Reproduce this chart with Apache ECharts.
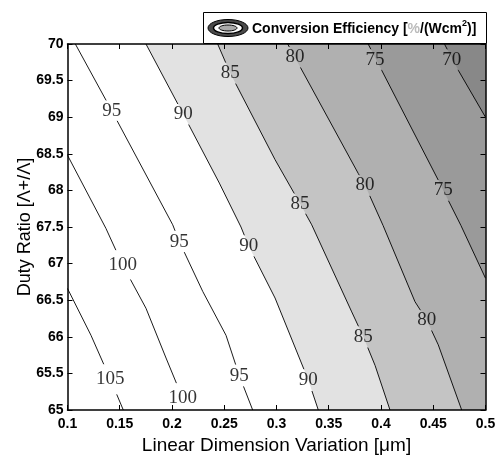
<!DOCTYPE html>
<html>
<head>
<meta charset="utf-8">
<script src="https://cdn.jsdelivr.net/npm/echarts@6/dist/echarts.min.js"></script>
<style>
html, body { margin: 0; padding: 0; background: #fff; }
#chart { width: 498px; height: 455px; }
</style>
</head>
<body>
<div id="chart"></div>
<script>
// contour levels, each line as [x, y] points (top -> bottom)
var levels = [105, 100, 95, 90, 85, 80, 75, 70];
var line105 = [[0.1, 66.66], [0.1225, 66.02], [0.141, 65.42], [0.1534, 65.0]];
var line100 = [[0.1, 68.48], [0.1368, 67.48], [0.1528, 66.98], [0.1751, 66.39], [0.1943, 65.71], [0.2102, 65.16], [0.215, 65.0]];
var line95 = [[0.1075, 70], [0.1423, 69.09], [0.2007, 67.53], [0.207, 67.3], [0.2294, 66.62], [0.2517, 66.02], [0.2644, 65.47], [0.2772, 65.0]];
var line90 = [[0.1751, 70], [0.2108, 69.04], [0.2453, 68.1], [0.266, 67.5], [0.2734, 67.24], [0.2986, 66.53], [0.3304, 65.41], [0.34, 65.0]];
var line85 = [[0.2437, 70], [0.2558, 69.6], [0.2986, 68.42], [0.3225, 67.82], [0.3337, 67.53], [0.372, 66.34], [0.3831, 66.0], [0.3943, 65.61], [0.4086, 65.0]];
var line80 = [[0.3107, 70], [0.3225, 69.69], [0.3783, 68.23], [0.3847, 68.07], [0.402, 67.52], [0.4325, 66.48], [0.4437, 66.23], [0.4548, 65.89], [0.4772, 65.0]];
var line75 = [[0.3877, 70], [0.4007, 69.64], [0.4548, 68.14], [0.4596, 68.0], [0.4765, 67.52], [0.5, 66.8]];
var line70 = [[0.4607, 70], [0.474, 69.64], [0.5, 69.0]];

// inline contour labels [x, y, level]
var contourLabels = [
  [0.141, 65.42, 105],
  [0.1528, 66.98, 100], [0.2102, 65.16, 100],
  [0.1423, 69.09, 95], [0.207, 67.3, 95], [0.2644, 65.47, 95],
  [0.2108, 69.04, 90], [0.2734, 67.24, 90], [0.3304, 65.41, 90],
  [0.2558, 69.6, 85], [0.3225, 67.82, 85], [0.3831, 66.0, 85],
  [0.3177, 69.82, 80], [0.3847, 68.07, 80], [0.4437, 66.23, 80],
  [0.3943, 69.78, 75], [0.4596, 68.0, 75],
  [0.4676, 69.78, 70]
];

// shading of the band to the right of each line
var fillLevels = [90, 85, 80, 75, 70];
var fillColors = ['#e2e2e2', '#c4c4c4', '#b0b0b0', '#9a9a9a', '#888888'];

var lines = [line105, line100, line95, line90, line85, line80, line75, line70];
var fillLines = [line90, line85, line80, line75, line70];

var myChart = echarts.init(document.getElementById('chart'));

// cut gaps in a pixel polyline where the labels sit
function cutGaps(px, labelPx) {
  var L = [0];
  for (var i = 1; i < px.length; i++) {
    L.push(L[i - 1] + Math.hypot(px[i][0] - px[i - 1][0], px[i][1] - px[i - 1][1]));
  }
  var total = L[L.length - 1];
  function at(s) {
    for (var i = 0; i < px.length - 1; i++) {
      if (s <= L[i + 1] || i === px.length - 2) {
        var t = (s - L[i]) / ((L[i + 1] - L[i]) || 1);
        return [px[i][0] + t * (px[i + 1][0] - px[i][0]), px[i][1] + t * (px[i + 1][1] - px[i][1])];
      }
    }
  }
  var gaps = labelPx.map(function (lb) {
    var best = 1e9, s0 = 0;
    for (var i = 0; i < px.length - 1; i++) {
      var ax = px[i][0], ay = px[i][1], bx = px[i + 1][0], by = px[i + 1][1];
      var dx = bx - ax, dy = by - ay, len2 = dx * dx + dy * dy || 1;
      var t = Math.max(0, Math.min(1, ((lb.p[0] - ax) * dx + (lb.p[1] - ay) * dy) / len2));
      var d = Math.hypot(ax + t * dx - lb.p[0], ay + t * dy - lb.p[1]);
      if (d < best) { best = d; s0 = L[i] + t * (L[i + 1] - L[i]); }
    }
    return [s0 - lb.w, s0 + lb.w];
  }).sort(function (a, b) { return a[0] - b[0]; });
  var keep = [], start = 0;
  gaps.forEach(function (g) {
    if (g[0] > start) keep.push([start, g[0]]);
    start = Math.max(start, g[1]);
  });
  if (start < total) keep.push([start, total]);
  return keep.map(function (k) {
    var seg = [at(k[0])];
    for (var i = 0; i < px.length; i++) if (L[i] > k[0] && L[i] < k[1]) seg.push(px[i]);
    seg.push(at(k[1]));
    return seg;
  });
}

var option = {
  animation: false,
  grid: { left: 67.5, right: 12.5, top: 44, bottom: 45, containLabel: false, outerBoundsMode: 'none' },
  xAxis: [{
    type: 'value', min: 0.1, max: 0.5, interval: 0.05, position: 'bottom', z: 10,
    name: 'Linear Dimension Variation [\u03bcm]', nameLocation: 'middle', nameGap: 22,
    nameTextStyle: { color: '#000', fontSize: 19, fontFamily: 'Liberation Sans' },
    axisLine: { lineStyle: { color: '#000', width: 1.5 } },
    axisTick: { inside: true, length: 5, lineStyle: { color: '#000' } },
    axisLabel: { color: '#000', fontSize: 14, fontWeight: 'bold', fontFamily: 'Liberation Sans', margin: 7 },
    splitLine: { show: false }
  }, {
    type: 'value', min: 0.1, max: 0.5, interval: 0.05, position: 'top', z: 10,
    axisLine: { lineStyle: { color: '#000', width: 1.5 } },
    axisTick: { inside: true, length: 5, lineStyle: { color: '#000' } },
    axisLabel: { show: false },
    splitLine: { show: false }
  }],
  yAxis: [{
    type: 'value', min: 65, max: 70, interval: 0.5, position: 'left', z: 10,
    name: 'Duty Ratio [\u039b+/\u039b]', nameLocation: 'middle', nameGap: 33, nameMoveOverlap: false,
    nameTextStyle: { color: '#000', fontSize: 18, fontFamily: 'Liberation Sans' },
    axisLine: { lineStyle: { color: '#000', width: 1.5 } },
    axisTick: { inside: true, length: 5, lineStyle: { color: '#000' } },
    axisLabel: { color: '#000', fontSize: 14, fontWeight: 'bold', fontFamily: 'Liberation Sans', margin: 4 },
    splitLine: { show: false }
  }, {
    type: 'value', min: 65, max: 70, interval: 0.5, position: 'right', z: 10,
    axisLine: { lineStyle: { color: '#000', width: 1.5 } },
    axisTick: { inside: true, length: 5, lineStyle: { color: '#000' } },
    axisLabel: { show: false },
    splitLine: { show: false }
  }],
  graphic: [
    { type: 'rect', z: 100, shape: { x: 203.5, y: 12.5, width: 283, height: 31 },
      style: { fill: '#fff', stroke: '#000', lineWidth: 1 } },
    { type: 'ellipse', z: 101, shape: { cx: 228, cy: 28, rx: 20, ry: 8.5 },
      style: { fill: '#4a4a4a', stroke: '#000', lineWidth: 1 } },
    { type: 'ellipse', z: 102, shape: { cx: 228, cy: 28, rx: 14.5, ry: 5.5 },
      style: { fill: '#fff', stroke: '#000', lineWidth: 1.5 } },
    { type: 'ellipse', z: 103, shape: { cx: 228, cy: 28, rx: 9, ry: 3 },
      style: { fill: '#aaa', stroke: '#000', lineWidth: 1 } },
    { type: 'text', z: 104, x: 252, y: 28,
      style: {
        text: '{a|Conversion Efficiency [}{g|%}{a|/(Wcm}{s|2}{a|)]}',
        verticalAlign: 'middle',
        rich: {
          a: { fontSize: 14, fontWeight: 'bold', fontFamily: 'Liberation Sans', fill: '#000', lineHeight: 17, verticalAlign: 'bottom' },
          g: { fontSize: 14, fontWeight: 'bold', fontFamily: 'Liberation Sans', fill: '#bbb', lineHeight: 17, verticalAlign: 'bottom' },
          s: { fontSize: 9, fontWeight: 'bold', fontFamily: 'Liberation Sans', fill: '#000', lineHeight: 10, verticalAlign: 'top' }
        }
      } }
  ],
  series: [
    {
      // shaded bands
      type: 'custom', z: 1, clip: true,
      data: fillLines.map(function (l, i) { return [l[0][0], l[0][1], fillLevels[i]]; }),
      encode: { x: 0, y: 1 },
      renderItem: function (params, api) {
        var pts = fillLines[params.dataIndex].slice();
        var last = pts[pts.length - 1];
        if (last[1] <= 65) pts.push([0.5, 65]);
        pts.push([0.5, 70]);
        return {
          type: 'polygon',
          shape: { points: pts.map(function (p) { return api.coord(p); }) },
          style: { fill: fillColors[params.dataIndex], stroke: null }
        };
      }
    },
    {
      // contour lines, broken where labels sit
      type: 'custom', z: 2, clip: true,
      data: lines.map(function (l, i) { return [l[0][0], l[0][1], levels[i]]; }),
      encode: { x: 0, y: 1 },
      renderItem: function (params, api) {
        var lv = levels[params.dataIndex];
        var px = lines[params.dataIndex].map(function (p) { return api.coord(p); });
        var labs = contourLabels.filter(function (c) { return c[2] === lv; }).map(function (c) {
          return { p: api.coord([c[0], c[1]]), w: String(c[2]).length * 4.8 + 2 };
        });
        var segs = cutGaps(px, labs);
        return {
          type: 'group',
          children: segs.map(function (s) {
            return { type: 'polyline', shape: { points: s }, style: { stroke: '#000', lineWidth: 0.9, fill: null } };
          })
        };
      }
    },
    {
      type: 'scatter', z: 3,
      data: contourLabels,
      symbolSize: 1,
      itemStyle: { color: 'rgba(0,0,0,0)' },
      label: {
        show: true, position: 'inside',
        formatter: function (p) { return p.value[2]; },
        color: '#000', fontSize: 19, fontFamily: 'Liberation Serif'
      }
    }
  ]
};

myChart.setOption(option);
</script>
</body>
</html>
